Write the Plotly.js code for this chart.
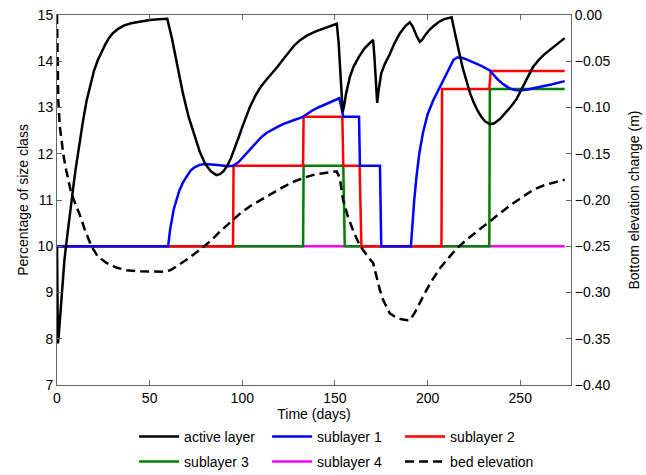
<!DOCTYPE html>
<html>
<head>
<meta charset="utf-8">
<script src="https://cdn.plot.ly/plotly-3.0.1.min.js"></script>
<style>html,body{margin:0;padding:0;background:#fff;}#chart{width:646px;height:475px;}</style>
</head>
<body>
<div id="chart"></div>
<script>
// Active layer (percentage)
const activeDays = [0,0.5,1,2,3,4,5,6,7,8,9,10,12,14,16,18,20,22,24,26,28,30,33,36,40,45,50,55,59.5,
  62,65,68,71,74,77,80,83,86,88,90,92,94,96,98,100,102,104,107,110,113,116,119,122,125,128,131,135,140,145,150,151,
  152,153,154.2,155,156,158,160,163,166,169,170.6,171.3,172,172.8,173.5,175,177,179.6,182,185,188,190.4,192,194,195.8,
  197,199,201,203,206,209,212,213,214,215,217,219,221,223,225,227,229,231,233.6,236,239,242,245,248,251,254,257,260,263,266,270,274];
const activeVals = [10,7.9,8.1,8.7,9.3,9.7,10.05,10.4,10.75,11.05,11.35,11.65,12.2,12.7,13.15,13.5,13.8,14.02,14.2,14.36,14.5,14.6,14.7,14.77,14.82,14.86,14.89,14.91,14.92,
  14.5,13.9,13.3,12.8,12.4,12.05,11.78,11.62,11.54,11.56,11.63,11.75,11.92,12.12,12.35,12.58,12.8,13.0,13.25,13.45,13.6,13.73,13.88,14.04,14.2,14.34,14.45,14.56,14.65,14.73,14.8,14.81,
  14.4,13.7,12.9,13.05,13.3,13.65,13.88,14.1,14.28,14.4,14.46,14.1,13.6,13.1,13.35,13.74,13.95,14.15,14.38,14.6,14.76,14.84,14.75,14.55,14.42,
  14.46,14.58,14.68,14.75,14.85,14.91,14.95,14.95,14.75,14.55,14.2,13.85,13.55,13.3,13.1,12.93,12.8,12.7,12.64,12.66,12.75,12.88,13.02,13.18,13.4,13.65,13.88,14.03,14.15,14.25,14.38,14.5];

// Sublayer 1
const sub1Days = [0,60,61,62,63,64.5,66,68,70,72,74,77,80,84,88,92,95,98,101,104,107,110,113,116,119,122,125,128,131,132.8,135,138,141,144,147,150,152.3,153.5,154.5,
  163,163.5,174.3,175,191,191.8,192.8,194,195.5,197.5,200,203,206,209,212,214,216,218,221,225,229,233.6,236,238,241,244,247,250,254,258,262,266,270,274];
const sub1Vals = [10,10,10.35,10.6,10.8,11.0,11.2,11.38,11.52,11.63,11.7,11.76,11.78,11.77,11.75,11.73,11.74,11.82,11.95,12.08,12.22,12.35,12.45,12.52,12.58,12.64,12.69,12.73,12.77,12.8,12.86,12.94,13.0,13.05,13.11,13.16,13.2,13.0,12.8,
  12.8,11.74,11.74,10,10,10.5,11.0,11.5,12.0,12.45,12.85,13.15,13.4,13.65,13.9,14.03,14.08,14.08,14.04,13.97,13.9,13.8,13.7,13.6,13.5,13.42,13.38,13.37,13.39,13.42,13.45,13.49,13.53,13.57];

// Sublayer 2
const sub2Days = [0,95,95.3,132.8,133.1,154,154.5,163.3,164.3,207.5,207.8,233.3,234.1,274];
const sub2Vals = [10,10,11.74,11.74,12.8,12.8,11.74,11.74,10,10,13.4,13.4,13.79,13.79];

// Sublayer 3
const sub3Days = [0,132.8,133.1,154.5,155.3,233.3,233.6,274];
const sub3Vals = [10,10,11.74,11.74,10,10,13.4,13.4];

// Sublayer 4
const sub4Days = [0,274];
const sub4Vals = [10,10];

// Bed elevation (m)
const bedDays = [0,0.3,0.7,1.5,2.5,3.5,5,7.4,10,12.3,15,18.6,22,26.7,32,37.5,45,52,59,62,66,71,77,83,88,93,98.6,104,110,116.6,122,128,134.7,140,146,150.9,
  152.6,153.5,154.4,157,160,163.4,166,168,170.6,172,174.2,176,179.6,183,186,189,190.4,193,196,199.5,203,207,212,216,221,226,232,239,245,251,257,263,268,274];
const bedVals = [0,-0.05,-0.092,-0.12,-0.14,-0.152,-0.168,-0.19,-0.205,-0.216,-0.232,-0.25,-0.261,-0.268,-0.273,-0.276,-0.277,-0.2775,-0.2775,-0.275,-0.27,-0.263,-0.254,-0.244,-0.234,-0.225,-0.215,-0.207,-0.2,-0.192,-0.186,-0.18,-0.175,-0.172,-0.17,-0.169,
  -0.176,-0.188,-0.2,-0.218,-0.234,-0.249,-0.257,-0.262,-0.268,-0.28,-0.297,-0.308,-0.3225,-0.327,-0.329,-0.33,-0.33,-0.322,-0.31,-0.297,-0.285,-0.273,-0.261,-0.252,-0.243,-0.235,-0.225,-0.214,-0.205,-0.197,-0.189,-0.184,-0.181,-0.178];

const xTicks = [0,50,100,150,200,250];
const yTicks = [7,8,9,10,11,12,13,14,15];
const y2Ticks = [-0.40,-0.35,-0.30,-0.25,-0.20,-0.15,-0.10,-0.05,0.00];

const W = 2.5;
const traces = [
  {x: sub4Days, y: sub4Vals, name: 'sublayer 4', legend: 'legend2', legendrank: 5, mode: 'lines', line: {color: '#ff00ff', width: W}},
  {x: sub3Days, y: sub3Vals, name: 'sublayer 3', legend: 'legend2', legendrank: 4, mode: 'lines', line: {color: '#008000', width: W}},
  {x: sub2Days, y: sub2Vals, name: 'sublayer 2', legend: 'legend', legendrank: 3, mode: 'lines', line: {color: '#ff0000', width: W}},
  {x: sub1Days, y: sub1Vals, name: 'sublayer 1', legend: 'legend', legendrank: 2, mode: 'lines', line: {color: '#0000ff', width: W}},
  {x: activeDays, y: activeVals, name: 'active layer', legend: 'legend', legendrank: 1, mode: 'lines', line: {color: '#000000', width: W}},
  {x: bedDays, y: bedVals, name: 'bed elevation', legend: 'legend2', legendrank: 6, yaxis: 'y2', mode: 'lines', line: {color: '#000000', width: W, dash: '9px,5px'}}
];

const axisFont = {family: 'Liberation Sans, Arial, sans-serif', size: 14, color: '#000'};
const legendBase = {orientation: 'h', x: 0.15, xanchor: 'left', yanchor: 'middle',
  entrywidth: 78, itemwidth: 40, font: axisFont, traceorder: 'normal', bgcolor: 'rgba(0,0,0,0)'};
const layout = {
  width: 646, height: 475,
  margin: {l: 57, r: 75, t: 15, b: 90, autoexpand: false},
  paper_bgcolor: '#fff', plot_bgcolor: '#fff',
  font: axisFont,
  showlegend: true,
  legend: Object.assign({}, legendBase, {y: -0.1405}),
  legend2: Object.assign({}, legendBase, {y: -0.208}),
  xaxis: {range: [0, 277.4], tickvals: xTicks, ticks: 'inside', ticklen: 5, tickcolor: '#666',
    showline: true, linecolor: '#666', linewidth: 1, mirror: 'ticks', showgrid: false, zeroline: false,
    title: {text: 'Time (days)', font: axisFont, standoff: 2}, tickfont: axisFont},
  yaxis: {range: [7, 15], tickvals: yTicks, ticks: 'inside', ticklen: 5, tickcolor: '#666',
    showline: true, linecolor: '#666', linewidth: 1, showgrid: false, zeroline: false,
    title: {text: 'Percentage of size class', font: axisFont, standoff: 5}, tickfont: axisFont},
  yaxis2: {range: [-0.4, 0], tickvals: y2Ticks, tickformat: '.2f', overlaying: 'y', side: 'right',
    ticks: 'inside', ticklen: 5, tickcolor: '#666', showline: true, linecolor: '#666', linewidth: 1,
    showgrid: false, zeroline: false,
    title: {text: 'Bottom elevation change (m)', font: axisFont, standoff: 19}, tickfont: axisFont}
};

Plotly.newPlot('chart', traces, layout, {displayModeBar: false, staticPlot: true});
</script>
</body>
</html>
